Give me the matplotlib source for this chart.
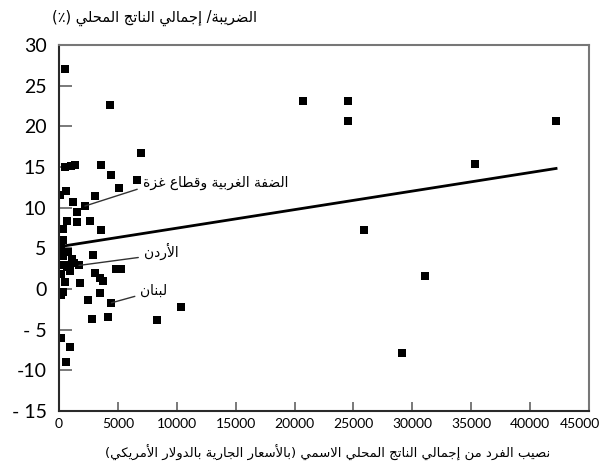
import matplotlib
matplotlib.use('Agg')
import matplotlib.pyplot as plt
from matplotlib import transforms

# نصيب الفرد من الناتج (دولار) ونسبة الضريبة إلى الناتج (%)
gdp_per_capita = [20700, 24500, 24500, 42200, 35300, 25900, 31100, 29100,
                  8300, 10400, 7000, 6650, 4350, 500,
                  500, 1000, 1400, 3600, 4450, 5100,
                  100, 600, 1150, 3050, 1550, 2200,
                  650, 1500, 2650, 3550, 300, 300, 200,
                  350, 1100, 650, 2900, 3050, 3750, 3450, 4850, 5300,
                  500, 1800, 350, 200, 2500, 3450, 4450,
                  2800, 4200, 200, 900, 600,
                  800, 1300, 400, 900, 150, 1700]
tax_ratio = [23.1, 23.1, 20.7, 20.6, 15.4, 7.2, 1.6, -7.9,
             -3.8, -2.2, 16.7, 13.4, 22.6, 27.0,
             15.0, 15.1, 15.2, 15.2, 14.0, 12.4,
             11.5, 12.0, 10.7, 11.4, 9.5, 10.2,
             8.4, 8.3, 8.4, 7.3, 7.4, 6.0, 5.1,
             4.1, 3.7, 2.7, 4.2, 2.0, 1.0, 1.4, 2.4, 2.4,
             0.9, 0.7, -0.4, -0.7, -1.3, -0.5, -1.7,
             -3.7, -3.5, -6.0, -7.1, -9.0,
             4.5, 3.2, 3.0, 2.2, 1.8, 2.9]

# خط الاتجاه
trend_intercept = 5.2
trend_slope = 0.000228

# البلدان المسماة: (النص، نقطة البلد، موضع النص)
labelled = [('الضفة الغربية وقطاع غزة', (2200, 10.2), (7100, 13.0)),
            ('الأردن', (1700, 2.9), (7200, 4.6)),
            ('لبنان', (4450, -1.7), (6900, -0.2))]

xticks = [0, 5000, 10000, 15000, 20000, 25000, 30000, 35000, 40000, 45000]
yticks = [30, 25, 20, 15, 10, 5, 0, -5, -10, -15]
ytick_labels = ['30', '25', '20', '15', '10', '5', '0', '- 5', '-10', '- 15']

xlabel = 'نصيب الفرد من إجمالي الناتج المحلي الاسمي (بالأسعار الجارية بالدولار الأمريكي)'
ylabel = 'الضريبة/ إجمالي الناتج المحلي (٪)'

# أشكال الحروف العربية (معزول، نهائي، بدئي، وسطي)
_dual = {'ب': 0xFE8F, 'ت': 0xFE95, 'ث': 0xFE99, 'ج': 0xFE9D, 'ح': 0xFEA1,
         'خ': 0xFEA5, 'س': 0xFEB1, 'ش': 0xFEB5, 'ص': 0xFEB9, 'ض': 0xFEBD,
         'ط': 0xFEC1, 'ظ': 0xFEC5, 'ع': 0xFEC9, 'غ': 0xFECD, 'ف': 0xFED1,
         'ق': 0xFED5, 'ك': 0xFED9, 'ل': 0xFEDD, 'م': 0xFEE1, 'ن': 0xFEE5,
         'ه': 0xFEE9, 'ي': 0xFEF1}
_right = {'ا': 0xFE8D, 'أ': 0xFE83, 'إ': 0xFE87, 'آ': 0xFE81, 'ة': 0xFE93,
          'د': 0xFEA9, 'ذ': 0xFEAB, 'ر': 0xFEAD, 'ز': 0xFEAF, 'و': 0xFEED,
          'ى': 0xFEEF}
_lam_alef = {'ا': 0xFEFB, 'أ': 0xFEF7, 'إ': 0xFEF9, 'آ': 0xFEF5}


def shape(text):
    out = []
    prev_joins = False
    i = 0
    while i < len(text):
        c = text[i]
        nxt = text[i + 1] if i + 1 < len(text) else ''
        if c == 'ل' and nxt in _lam_alef:
            out.append(chr(_lam_alef[nxt] + prev_joins))
            prev_joins = False
            i += 2
            continue
        if c in _dual:
            next_joins = nxt in _dual or nxt in _right
            if next_joins:
                form = 3 if prev_joins else 2
            else:
                form = 1 if prev_joins else 0
            out.append(chr(_dual[c] + form))
            prev_joins = True
        elif c in _right:
            out.append(chr(_right[c] + prev_joins))
            prev_joins = False
        else:
            out.append(c)
            prev_joins = False
        i += 1
    mirror = {'(': ')', ')': '('}
    return ''.join(mirror.get(ch, ch) for ch in reversed(out))


arabic = ['DejaVu Sans']

fig = plt.figure(figsize=(6.07, 4.65), dpi=100)
ax = fig.add_axes([0.0972, 0.1161, 0.8732, 0.7871])

ax.plot(gdp_per_capita, tax_ratio, 's', color='black', ms=5.4, mew=0)

x_end = max(gdp_per_capita)
ax.plot([0, x_end], [trend_intercept, trend_intercept + trend_slope * x_end],
        color='black', lw=2)

for name, point, text_pos in labelled:
    ax.annotate(shape(name), xy=point, xytext=text_pos, ha='left', va='center',
                fontsize=10, family=arabic,
                arrowprops=dict(arrowstyle='-', color='#333333', lw=1.0,
                                relpos=(0, 0.2), shrinkA=2, shrinkB=0))

ax.set_xlim(0, 45000)
ax.set_ylim(-15, 30)
ax.set_xticks(xticks)
ax.set_xticklabels([str(t) for t in xticks], family='Lato', fontsize=10)
ax.set_yticks(yticks)
ax.set_yticklabels(ytick_labels, family='Lato', fontsize=14)
ax.tick_params(axis='y', direction='in', length=9, width=1.1, pad=9, color='#555555')
ax.tick_params(axis='x', direction='in', length=6.5, width=1.1, pad=5, color='#555555')

# the last tick label is nudged left so it stays inside the figure
last = ax.get_xticklabels()[-1]
last.set_transform(last.get_transform() +
                   transforms.ScaledTranslation(-0.09, 0, fig.dpi_scale_trans))

for side in ['left', 'bottom']:
    ax.spines[side].set_linewidth(1.5)
    ax.spines[side].set_color('#2a2a2a')
for side in ['top', 'right']:
    ax.spines[side].set_linewidth(1.5)
    ax.spines[side].set_color('#777777')

fig.text(0.255, 0.962, shape(ylabel), ha='center', va='center',
         fontsize=10.5, family=arabic)
fig.text(0.54, 0.026, shape(xlabel), ha='center', va='center',
         fontsize=9.5, family=arabic)

fig.savefig('out.png', dpi=100)
